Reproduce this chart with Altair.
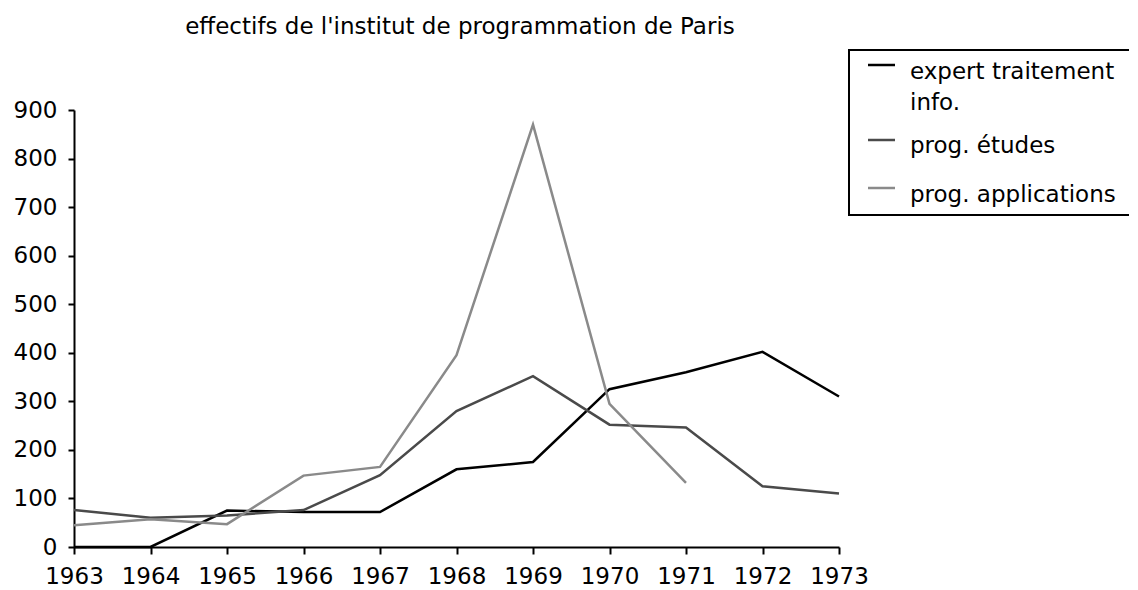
import altair as alt
import pandas as pd

years = list(range(1963, 1974))
expert = [0, 0, 75, 72, 72, 160, 175, 325, 360, 402, 310]
etudes = [76, 60, 65, 76, 148, 280, 352, 252, 246, 125, 110]
applications = [45, 57, 47, 147, 165, 395, 870, 295, 132, None, None]
series_names = ["expert traitement info.", "prog. études", "prog. applications"]
series_colors = ["#000000", "#4a4a4a", "#8a8a8a"]
legend_text = [["expert traitement", "info."], ["prog. études"], ["prog. applications"]]
title_text = "effectifs de l'institut de programmation de Paris"
y_ticks = list(range(0, 1000, 100))

FONT = "DejaVu Sans"
FS = 23

rows = []
for name, vals in zip(series_names, [expert, etudes, applications]):
    for yr, v in zip(years, vals):
        if v is not None:
            rows.append({"year": yr, "value": v, "series": name})
df = pd.DataFrame(rows)

color_scale = alt.Scale(domain=series_names, range=series_colors)

lines = alt.Chart(df).mark_line(strokeWidth=2.5).encode(
    x=alt.X("year:Q", scale=alt.Scale(domain=[years[0], years[-1]], nice=False, zero=False),
            axis=alt.Axis(values=years, format="d", title=None, labelFontSize=FS, labelFont=FONT,
                          labelColor="black", domainColor="black", domainWidth=2, tickColor="black",
                          tickWidth=2, tickSize=7, labelPadding=11, grid=False, labelFlush=False)),
    y=alt.Y("value:Q", scale=alt.Scale(domain=[0, 900], nice=False),
            axis=alt.Axis(values=y_ticks, title=None, labelFontSize=FS, labelFont=FONT,
                          labelColor="black", domainColor="black", domainWidth=2, tickColor="black",
                          tickWidth=2, tickSize=6, labelPadding=11, grid=False)),
    color=alt.Color("series:N", scale=color_scale, legend=None),
    detail="series:N",
)

# title
title = alt.Chart(pd.DataFrame({"t": [title_text]})).mark_text(
    font=FONT, fontSize=FS, color="black", align="center", baseline="middle"
).encode(x=alt.value(386), y=alt.value(-83), text="t:N")

# legend box
box = alt.Chart(pd.DataFrame({"t": [0]})).mark_rect(
    fillOpacity=0, stroke="black", strokeWidth=2
).encode(x=alt.value(775), x2=alt.value(1200), y=alt.value(-60), y2=alt.value(105))

# legend symbols
sym_df = pd.DataFrame({"series": series_names, "sy": [-45, 30, 78]})
sym = alt.Chart(sym_df).mark_rule(strokeWidth=2.5).encode(
    x=alt.value(794), x2=alt.value(821),
    y=alt.Y("sy:Q", scale=None),
    color=alt.Color("series:N", scale=color_scale, legend=None),
)

lab_rows = []
ypos = [[-38, -7], [36], [85]]
for parts, ys in zip(legend_text, ypos):
    for p, yy in zip(parts, ys):
        lab_rows.append({"label": p, "ly": yy})
lab = alt.Chart(pd.DataFrame(lab_rows)).mark_text(
    font=FONT, fontSize=FS, color="black", align="left", baseline="middle"
).encode(x=alt.value(836), y=alt.Y("ly:Q", scale=None), text="label:N")

chart = alt.layer(lines, title, box, sym, lab).properties(
    width=765, height=437,
    autosize=alt.AutoSizeParams(type="none"),
    padding={"left": 66, "top": 102, "right": 290, "bottom": 44},
).configure_view(strokeWidth=0)

chart.save("out.html", embed_options={"renderer": "svg", "actions": False})
